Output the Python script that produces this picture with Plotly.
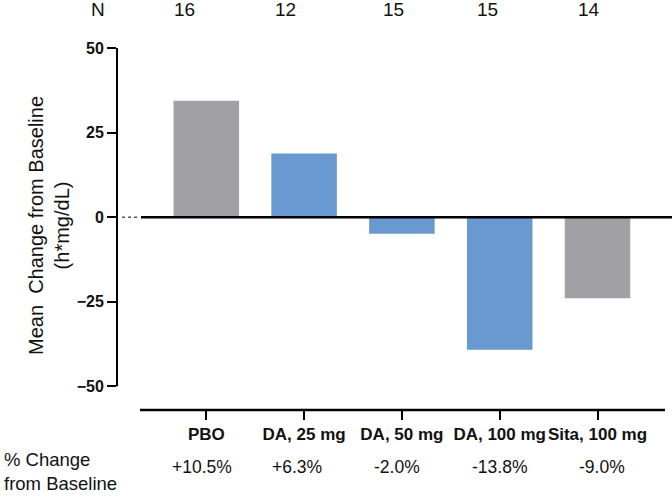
import plotly.graph_objects as go

categories = ["PBO", "DA, 25 mg", "DA, 50 mg", "DA, 100 mg", "Sita, 100 mg"]
mean_change = [34.4, 18.8, -4.9, -39.2, -24.0]
n_values = ["16", "12", "15", "15", "14"]
pct_change = ["+10.5%", "+6.3%", "-2.0%", "-13.8%", "-9.0%"]
bar_colors = ["#a1a1a5", "#6999d1", "#6999d1", "#6999d1", "#a1a1a5"]

W, H = 672, 500
ML, MR, MT, MB = 117, 0, 48, 90
plot_w = W - ML - MR
plot_h = H - MT - MB
X0_PX, STEP_PX = 206.3, 97.8


def px_to_x(px):
    return (px - X0_PX) / STEP_PX


def px_to_py(py):
    return (H - MB - py) / plot_h


def px_to_paper_x(px):
    return (px - ML) / plot_w


FONT = "Liberation Sans, Arial, sans-serif"

fig = go.Figure()
fig.add_trace(go.Bar(
    x=categories, y=mean_change, width=0.67,
    marker=dict(color=bar_colors, line=dict(width=0)),
    showlegend=False, hoverinfo="skip",
))

shapes = [
    dict(type="line", xref="paper", yref="y", x0=0, x1=0, y0=-50, y1=50,
         line=dict(color="black", width=2)),
    dict(type="line", xref="x", yref="paper", x0=px_to_x(140), x1=px_to_x(665), y0=0, y1=0,
         line=dict(color="black", width=2.5)),
    dict(type="line", xref="x", yref="y", x0=px_to_x(141), x1=px_to_x(672), y0=0, y1=0,
         line=dict(color="black", width=2.5)),
    dict(type="line", xref="x", yref="y", x0=px_to_x(122), x1=px_to_x(140), y0=0, y1=0,
         line=dict(color="#555555", width=1.5, dash="dot")),
]

n_px = [184, 285, 393, 488, 589]
pct_px = [202, 297, 397, 500, 602]

annotations = [
    dict(text="N", xref="paper", yref="paper", x=px_to_paper_x(98), y=px_to_py(10),
         showarrow=False, xanchor="center", yanchor="middle",
         font=dict(family=FONT, size=19, color="#111")),
    dict(text="% Change<br>from Baseline", xref="paper", yref="paper",
         x=px_to_paper_x(2), y=px_to_py(471), showarrow=False, align="left",
         xanchor="left", yanchor="middle",
         font=dict(family=FONT, size=18.5, color="#111")),
    dict(text="Mean  Change from Baseline<br>(h*mg/dL)", xref="paper", yref="paper",
         x=px_to_paper_x(49), y=px_to_py(226), showarrow=False, textangle=-90,
         xanchor="center", yanchor="middle",
         font=dict(family=FONT, size=20, color="#111")),
]
for nv, px in zip(n_values, n_px):
    annotations.append(dict(text=nv, xref="paper", yref="paper", x=px_to_paper_x(px), y=px_to_py(10),
                            showarrow=False, xanchor="center", yanchor="middle",
                            font=dict(family=FONT, size=19, color="#111")))
for pv, px in zip(pct_change, pct_px):
    annotations.append(dict(text=pv, xref="paper", yref="paper", x=px_to_paper_x(px), y=px_to_py(467),
                            showarrow=False, xanchor="center", yanchor="middle",
                            font=dict(family=FONT, size=17.5, color="#111")))

fig.update_layout(
    width=W, height=H,
    margin=dict(l=ML, r=MR, t=MT, b=MB, pad=0, autoexpand=False),
    paper_bgcolor="white", plot_bgcolor="white",
    font=dict(family=FONT, color="#111"),
    xaxis=dict(type="category", range=[px_to_x(ML), px_to_x(W - MR)],
               showline=False, showgrid=False, zeroline=False, automargin=False,
               tickangle=0,
               ticks="outside", ticklen=9, tickwidth=2, tickcolor="black",
               tickfont=dict(family=FONT, size=17, color="#111", weight="bold")),
    yaxis=dict(range=[-57, 50], tickvals=[-50, -25, 0, 25, 50],
               showline=False, showgrid=False, zeroline=False, automargin=False,
               ticks="outside", ticklen=9, tickwidth=2, tickcolor="black",
               tickfont=dict(family=FONT, size=16, color="#111", weight="bold")),
    shapes=shapes, annotations=annotations,
)

fig.write_html("out.html")
